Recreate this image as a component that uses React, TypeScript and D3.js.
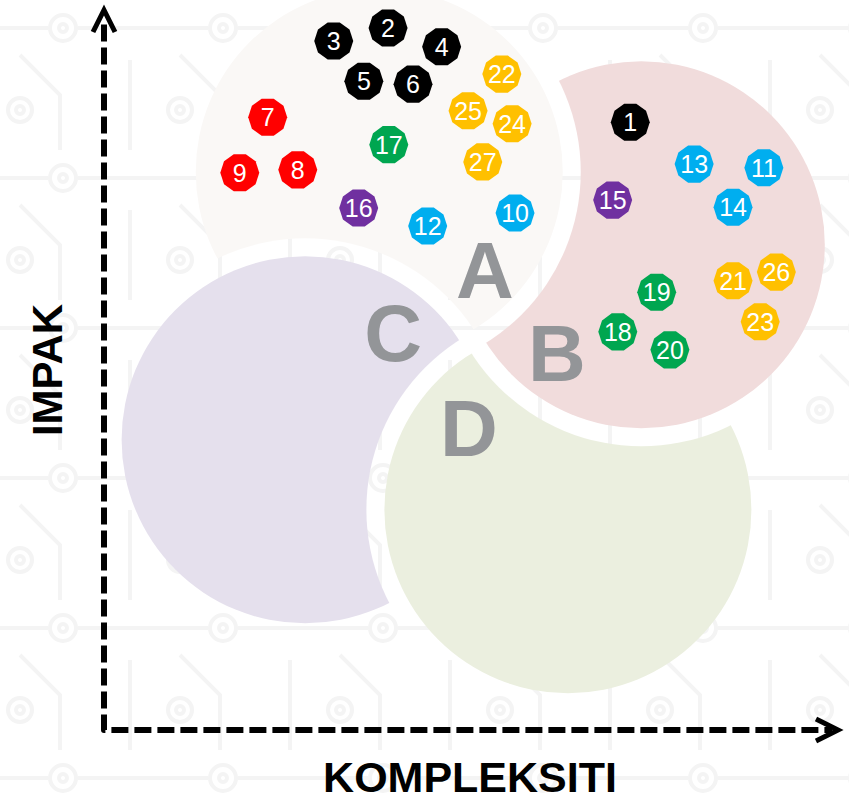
import React, { useRef, useEffect } from "react";
import * as d3 from "d3";

// quadrant bubbles (data units 0..100 on both axes)
const quadrantLabels = ["A", "B", "C", "D"];
const quadrantX = [37.5, 73.2, 27.4, 63.2];
const quadrantY = [77.5, 67.4, 40.3, 30.6];
const quadrantColors = ["#faf8f6", "#f1dcdc", "#e5e0ed", "#ebefdf"];
// which bubble sits on top of each one (cuts a white gap into it)
const quadrantCutBy = ["C", "A", "D", "B"];
const labelX = [51.9, 61.7, 39.4, 49.7];
const labelY = [64.0, 52.5, 55.3, 42.1];

// numbered items
const itemIds = [
  1, 2, 3, 4, 5, 6, 7, 8, 9, 10, 11, 12, 13, 14, 15, 16, 17, 18, 19, 20, 21,
  22, 23, 24, 25, 26, 27,
];
const itemX = [
  71.7, 38.7, 31.3, 46.0, 35.4, 42.1, 22.3, 26.4, 18.5, 56.0, 89.9, 44.1, 80.4,
  85.7, 69.3, 34.7, 38.8, 70.0, 75.3, 77.1, 85.7, 54.2, 89.4, 55.6, 49.6, 91.6,
  51.6,
];
const itemY = [
  84.4, 97.5, 95.7, 94.9, 90.1, 89.7, 85.1, 77.8, 77.4, 71.8, 78.1, 70.0, 78.6,
  72.6, 73.6, 72.5, 81.3, 55.3, 60.8, 52.8, 62.4, 91.1, 56.7, 84.2, 86.0, 63.6,
  78.9,
];
const itemGroup = [
  "black", "black", "black", "black", "black", "black", "red", "red", "red",
  "blue", "blue", "blue", "blue", "blue", "purple", "purple", "green", "green",
  "green", "green", "yellow", "yellow", "yellow", "yellow", "yellow", "yellow",
  "yellow",
];
const groupColors = {
  black: "#000000",
  red: "#ff0000",
  blue: "#00aeef",
  purple: "#7030a0",
  green: "#00a650",
  yellow: "#ffc000",
};

const axisX = "KOMPLEKSITI";
const axisY = "IMPAK";

const W = 849;
const H = 803;

const App = () => {
  const svgRef = useRef(null);

  useEffect(() => {
    const svg = d3.select(svgRef.current);
    svg.selectAll("*").remove();

    const x = d3.scaleLinear().domain([0, 100]).range([104, 838]);
    const y = d3.scaleLinear().domain([0, 100]).range([730, 10]);
    const r = x(25) - x(0);
    const gap = 18;

    const defs = svg.append("defs");

    // faint circuit board texture
    const pat = defs
      .append("pattern")
      .attr("id", "circuit")
      .attr("patternUnits", "userSpaceOnUse")
      .attr("width", 160)
      .attr("height", 150);
    const pg = pat
      .append("g")
      .attr("fill", "none")
      .attr("stroke", "#f4f4f4")
      .attr("stroke-width", 4);
    pg.append("path").attr("d", "M0,28 H48 M78,28 H160");
    pg.append("circle").attr("cx", 63).attr("cy", 28).attr("r", 13);
    pg.append("circle").attr("cx", 63).attr("cy", 28).attr("r", 4);
    pg.append("path").attr("d", "M20,55 L60,95 V150 M130,60 V150");
    pg.append("circle").attr("cx", 20).attr("cy", 110).attr("r", 12);
    pg.append("circle").attr("cx", 20).attr("cy", 110).attr("r", 4);
    svg
      .append("rect")
      .attr("width", W)
      .attr("height", H)
      .attr("fill", "#ffffff");
    svg
      .append("rect")
      .attr("width", W)
      .attr("height", H)
      .attr("fill", "url(#circuit)");

    // masks: each bubble loses a ring where the bubble above it sits
    quadrantLabels.forEach((lab, i) => {
      const j = quadrantLabels.indexOf(quadrantCutBy[i]);
      const m = defs
        .append("mask")
        .attr("id", "cut-" + lab)
        .attr("maskUnits", "userSpaceOnUse")
        .attr("x", 0)
        .attr("y", 0)
        .attr("width", W)
        .attr("height", H);
      m.append("rect").attr("width", W).attr("height", H).attr("fill", "white");
      m.append("circle")
        .attr("cx", x(quadrantX[j]))
        .attr("cy", y(quadrantY[j]))
        .attr("r", r + gap)
        .attr("fill", "black");
    });

    svg
      .append("g")
      .selectAll("circle")
      .data(quadrantLabels)
      .enter()
      .append("circle")
      .attr("cx", (d, i) => x(quadrantX[i]))
      .attr("cy", (d, i) => y(quadrantY[i]))
      .attr("r", r)
      .attr("fill", (d, i) => quadrantColors[i])
      .attr("mask", (d) => `url(#cut-${d})`);

    svg
      .append("g")
      .selectAll("text")
      .data(quadrantLabels)
      .enter()
      .append("text")
      .attr("x", (d, i) => x(labelX[i]))
      .attr("y", (d, i) => y(labelY[i]))
      .attr("dy", "0.36em")
      .attr("text-anchor", "middle")
      .attr("font-family", "Liberation Sans, Arial, sans-serif")
      .attr("font-weight", "bold")
      .attr("font-size", 80)
      .attr("fill", "#939598")
      .text((d) => d);

    // axes: dashed L with open arrow heads
    const axes = svg
      .append("g")
      .attr("fill", "none")
      .attr("stroke", "#000")
      .attr("stroke-width", 6);
    axes
      .append("path")
      .attr("d", `M${x(0)},${y(98)} V${y(0)} H${x(99.2)}`)
      .attr("stroke-dasharray", "17 6")
      .attr("stroke-linejoin", "round");
    axes
      .append("path")
      .attr("stroke-width", 5)
      .attr("stroke-linejoin", "miter")
      .attr(
        "d",
        `M${x(0) - 11},${y(100) + 22} L${x(0)},${y(100)} L${x(0) + 11},${y(100) + 22}` +
          ` M${x(100) - 22},${y(0) - 11} L${x(100)},${y(0)} L${x(100) - 22},${y(0) + 11}`
      );

    svg
      .append("text")
      .attr("x", (x(0) + x(100)) / 2 - 1)
      .attr("y", 792)
      .attr("text-anchor", "middle")
      .attr("font-family", "Liberation Sans, Arial, sans-serif")
      .attr("font-weight", "bold")
      .attr("font-size", 43)
      .attr("fill", "#000")
      .text(axisX);

    svg
      .append("text")
      .attr("transform", `translate(62,${(y(0) + y(100)) / 2}) rotate(-90)`)
      .attr("text-anchor", "middle")
      .attr("font-family", "Liberation Sans, Arial, sans-serif")
      .attr("font-weight", "bold")
      .attr("font-size", 42)
      .attr("fill", "#000")
      .text(axisY);

    // numbered decagon markers
    const decagon = (rad) =>
      d3.range(10).map((k) => {
        const a = (k * Math.PI * 2) / 10;
        return [rad * Math.cos(a), rad * Math.sin(a)];
      });
    const line = d3.line().curve(d3.curveLinearClosed);

    const items = svg
      .append("g")
      .selectAll("g")
      .data(itemIds)
      .enter()
      .append("g")
      .attr("transform", (d, i) => `translate(${x(itemX[i])},${y(itemY[i])})`);

    items
      .append("path")
      .attr("d", line(decagon(19.5)))
      .attr("fill", (d, i) => groupColors[itemGroup[i]]);

    items
      .append("text")
      .attr("text-anchor", "middle")
      .attr("dy", "0.36em")
      .attr("font-family", "Liberation Sans, Arial, sans-serif")
      .attr("font-size", 25)
      .attr("fill", "#fff")
      .text((d) => d);
  }, []);

  return (
    <svg
      ref={svgRef}
      width={W}
      height={H}
      style={{ position: "absolute", left: 0, top: 0, display: "block" }}
    ></svg>
  );
};

export default App;
